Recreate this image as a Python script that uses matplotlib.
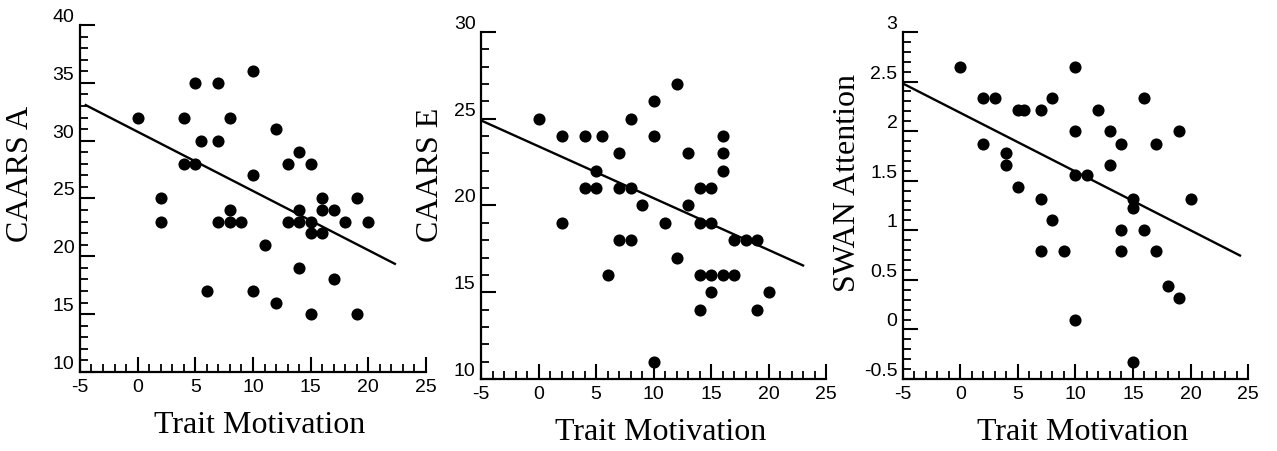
import matplotlib
matplotlib.use("Agg")
import matplotlib.pyplot as plt
from matplotlib.ticker import MultipleLocator, FormatStrFormatter

plt.rcParams['axes.unicode_minus'] = False

# CAARS A vs trait motivation
a_x = [0, 2, 2, 4, 4, 5, 5, 5.5, 6, 7, 7, 7, 8, 8, 8, 9, 10, 10, 10, 11, 12, 12,
       13, 13, 14, 14, 14, 14, 15, 15, 15, 15, 16, 16, 16, 17, 17, 18, 19, 19, 20]
a_y = [32, 25, 23, 32, 28, 35, 28, 30, 17, 35, 30, 23, 32, 24, 23, 23, 36, 27, 17, 21, 31, 16,
       28, 23, 29, 24, 23, 19, 28, 23, 22, 15, 25, 24, 22, 24, 18, 23, 25, 15, 23]
a_fit = (-0.512, 30.77)
a_fit_x = [-4.5, 22.3]

# CAARS E vs trait motivation
e_x = [0, 2, 2, 4, 4, 5, 5, 5.5, 6, 7, 7, 7, 8, 8, 8, 9, 10, 10, 10, 11, 12, 12,
       13, 13, 14, 14, 14, 14, 15, 15, 15, 15, 16, 16, 16, 16, 17, 17, 18, 19, 19, 20]
e_y = [25, 24, 19, 24, 21, 22, 21, 24, 16, 23, 21, 18, 25, 21, 18, 20, 26, 24, 11, 19, 27, 17,
       23, 20, 21, 19, 16, 14, 21, 19, 16, 15, 24, 23, 22, 16, 18, 16, 18, 18, 14, 15]
e_fit = (-0.2986, 23.41)
e_fit_x = [-5, 23]

# SWAN Attention vs trait motivation
s_x = [0, 2, 3, 2, 4, 4, 5, 5.5, 5, 7, 7, 7, 8, 8, 9, 10, 10, 10, 11, 10, 12, 13, 13,
       14, 14, 14, 15, 15, 15, 16, 16, 17, 17, 18, 19, 19, 20]
s_y = [2.65, 2.33, 2.33, 1.87, 1.78, 1.66, 2.21, 2.21, 1.44, 2.21, 1.32, 0.79, 2.33, 1.1, 0.79,
       2.65, 2.0, 1.56, 1.56, 0.1, 2.21, 2.0, 1.66, 1.87, 1.0, 0.79, 1.32, 1.22, -0.33,
       2.33, 1.0, 1.87, 0.79, 0.44, 2.0, 0.32, 1.32]
s_fit = (-0.0592, 2.184)
s_fit_x = [-5, 24.3]

panels = [
    dict(x=a_x, y=a_y, fit=a_fit, fit_x=a_fit_x, ylabel="CAARS A", ylim=(10, 40),
         major=5, minor=1, fmt="%g", rect=[0.0626, 0.1748, 0.271, 0.7677],
         ylab_xy=(-0.13, 0.573)),
    dict(x=e_x, y=e_y, fit=e_fit, fit_x=e_fit_x, ylabel="CAARS E", ylim=(10, 30),
         major=5, minor=1, fmt="%g", rect=[0.3767, 0.1593, 0.2702, 0.7677],
         ylab_xy=(-0.104, 0.59)),
    dict(x=s_x, y=s_y, fit=s_fit, fit_x=s_fit_x, ylabel="SWAN Attention", ylim=(-0.5, 3),
         major=0.5, minor=0.1, fmt="%g", rect=[0.7071, 0.1593, 0.2702, 0.7677],
         ylab_xy=(-0.118, 0.568)),
]

fig = plt.figure(figsize=(12.77, 4.52), dpi=100)

for p in panels:
    ax = fig.add_axes(p["rect"])
    ax.scatter(p["x"], p["y"], s=76, color="black", zorder=3, clip_on=False, linewidths=0)
    slope, icpt = p["fit"]
    fx = p["fit_x"]
    ax.plot(fx, [slope * v + icpt for v in fx], color="black", lw=1.7, zorder=2)

    ax.set_xlim(-5, 25)
    ax.set_ylim(*p["ylim"])
    ax.xaxis.set_major_locator(MultipleLocator(5))
    ax.xaxis.set_minor_locator(MultipleLocator(1))
    ax.yaxis.set_major_locator(MultipleLocator(p["major"]))
    ax.yaxis.set_minor_locator(MultipleLocator(p["minor"]))
    ax.yaxis.set_major_formatter(FormatStrFormatter(p["fmt"]))

    for side in ["top", "right"]:
        ax.spines[side].set_visible(False)
    for side in ["left", "bottom"]:
        ax.spines[side].set_linewidth(1.6)

    ax.tick_params(which="major", direction="in", length=11, width=1.5,
                   labelsize=14, pad=4)
    ax.tick_params(which="minor", direction="in", length=6, width=1.3)
    for lbl in ax.get_xticklabels() + ax.get_yticklabels():
        lbl.set_family("Liberation Sans")
    for lbl in ax.get_yticklabels():
        lbl.set_va("bottom")

    ax.set_xlabel("Trait Motivation", family="Liberation Serif", fontsize=23)
    ax.set_ylabel(p["ylabel"], family="Liberation Serif", fontsize=23)
    ax.xaxis.set_label_coords(0.52, -0.11)
    ax.yaxis.set_label_coords(*p["ylab_xy"])
    ax.xaxis.label.set_va("top")

fig.savefig("out.png", dpi=100)
